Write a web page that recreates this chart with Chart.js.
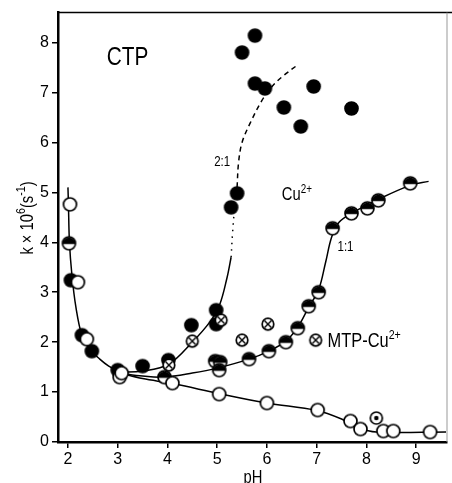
<!DOCTYPE html>
<html>
<head>
<meta charset="utf-8">
<script src="https://cdn.jsdelivr.net/npm/chart.js@4.4.0/dist/chart.umd.min.js"></script>
<style>
html, body { margin: 0; padding: 0; background: #fff; }
</style>
</head>
<body>
<canvas id="myChart" width="452" height="483"></canvas>
<script>
// points: [pH, k x 10^6]
const openPts = [[2.04,4.76],[2.2,3.2],[2.38,2.06],[3.04,1.3],[3.08,1.38],[4.1,1.18],[5.04,0.96],[6.0,0.78],[7.02,0.64],[7.68,0.42],[7.88,0.26],[8.34,0.22],[8.54,0.22],[9.28,0.2]];
const filledPts = [[2.06,3.24],[2.28,2.14],[2.48,1.82],[3.0,1.44],[3.5,1.52],[4.02,1.64],[4.48,2.34],[4.98,2.64],[4.98,2.36],[5.28,4.7],[5.4,4.98],[5.5,7.8],[5.76,8.14],[5.76,7.18],[5.96,7.08],[6.34,6.7],[6.68,6.32],[6.94,7.12],[7.7,6.68]];
const halfPts = [[2.02,3.98],[3.94,1.3],[4.96,1.62],[5.06,1.6],[5.04,1.44],[5.64,1.66],[6.04,1.82],[6.38,2.0],[6.62,2.28],[6.84,2.72],[7.04,3.0],[7.32,4.28],[7.7,4.58],[8.02,4.68],[8.24,4.84],[8.88,5.18]];
const crossPts = [[4.03,1.54],[4.5,2.02],[5.08,2.44],[5.5,2.04],[6.02,2.36]];
const dotPts = [[8.2,0.48]];
const legendPt = [[6.98,2.04]];

// hand-drawn curves, vertices
const lowCurve = [[2.0,5.1],[2.01,4.76],[2.03,4.0],[2.08,3.34],[2.16,2.7],[2.28,2.14],[2.44,1.86],[2.64,1.66],[2.82,1.52],[3.05,1.4]];
const openCurve = [[3.05,1.38],[3.5,1.27],[4.1,1.17],[5.04,0.97],[6.0,0.78],[7.0,0.63],[7.5,0.46],[7.85,0.28],[8.2,0.2],[9.6,0.2]];
const curve11 = [[3.05,1.38],[3.5,1.32],[3.94,1.3],[4.5,1.38],[5.0,1.48],[5.64,1.66],[6.04,1.82],[6.38,2.02],[6.62,2.3],[6.84,2.7],[7.04,3.05],[7.18,3.6],[7.3,4.1],[7.45,4.4],[7.7,4.58],[8.24,4.86],[8.88,5.14],[9.25,5.22]];
const curve21 = [[3.05,1.4],[3.5,1.42],[4.03,1.56],[4.5,2.0],[4.85,2.4],[5.05,2.75],[5.2,3.3],[5.28,3.7]];
const curve21dot = [[5.28,3.7],[5.31,4.2],[5.36,4.8],[5.4,5.1]];
const curve21dash = [[5.4,5.1],[5.43,5.6],[5.5,6.0],[5.66,6.38],[5.9,6.84],[6.12,7.14],[6.35,7.35],[6.6,7.54]];

const xTicks = [2,3,4,5,6,7,8,9];
const yTicks = [0,1,2,3,4,5,6,7,8];

const FONT = "'Liberation Sans', Arial, sans-serif";

function toXY(arr) {
    return arr.map(p => ({x: p[0], y: p[1]}));
}

function makeMarker(kind, r)
{
    const c = document.createElement('canvas');
    const s = Math.ceil(r * 2 + 4);
    c.width = s; c.height = s;
    const g = c.getContext('2d');
    const m = s / 2;
    g.beginPath();
    g.arc(m, m, r, 0, 2 * Math.PI);
    g.fillStyle = kind === 'filled' ? '#000' : '#fff';
    g.fill();
    if (kind === 'half') {
        g.beginPath();
        g.arc(m, m + 0.8, r, Math.PI, 2 * Math.PI);
        g.closePath();
        g.fillStyle = '#000';
        g.fill();
    }
    if (kind === 'cross') {
        const d = r * 0.6;
        g.beginPath();
        g.moveTo(m - d, m - d); g.lineTo(m + d, m + d);
        g.moveTo(m + d, m - d); g.lineTo(m - d, m + d);
        g.lineWidth = 1.4;
        g.strokeStyle = '#000';
        g.stroke();
    }
    if (kind === 'dot') {
        g.beginPath();
        g.arc(m, m, r * 0.38, 0, 2 * Math.PI);
        g.fillStyle = '#000';
        g.fill();
    }
    g.beginPath();
    g.arc(m, m, r, 0, 2 * Math.PI);
    g.lineWidth = 1.7;
    g.strokeStyle = '#000';
    g.stroke();
    return c;
}

const mOpen = makeMarker('open', 6.5);
const mFilled = makeMarker('filled', 6.5);
const mHalf = makeMarker('half', 6.5);
const mCross = makeMarker('cross', 5.8);
const mDot = makeMarker('dot', 6);

function pts(data, img, order) {
    return { data: toXY(data), pointStyle: img, showLine: false, order: order };
}
function curve(data, dash) {
    return {
        data: toXY(data), showLine: true, pointRadius: 0, borderColor: '#000',
        borderWidth: 1.5, borderDash: dash || [], tension: 0.35, order: 20
    };
}

// narrow text, the original lettering is condensed
function narrowText(ctx, txt, x, y, size, align, sx, measureOnly) {
    ctx.save();
    ctx.translate(x, y);
    ctx.scale(sx || 0.82, 1);
    ctx.font = size + 'px ' + FONT;
    ctx.textAlign = align;
    if (!measureOnly) ctx.fillText(txt, 0, 0);
    const w = ctx.measureText(txt).width * (sx || 0.82);
    ctx.restore();
    return w;
}

function drawSup(ctx, x, y, base, sup, size, supSize) {
    ctx.textBaseline = 'alphabetic';
    const w = narrowText(ctx, base, x, y, size, 'left');
    narrowText(ctx, sup, x + w, y - size * 0.42, supSize, 'left');
}

// runs of [text, isSuperscript], drawn left to right from x
function drawRuns(ctx, runs, x, y, size, supSize, measureOnly) {
    ctx.textBaseline = 'alphabetic';
    let cx = x;
    for (const r of runs) {
        if (r[1]) cx += narrowText(ctx, r[0], cx, y - size * 0.45, supSize, 'left', 0.82, measureOnly);
        else cx += narrowText(ctx, r[0], cx, y, size, 'left', 0.82, measureOnly);
    }
    return cx - x;
}

const yTitle = [['k × 10', false], ['6', true], ['(s', false], ['-1', true], [')', false]];

const textPlugin = {
    id: 'texts',
    afterDraw(chart) {
        const ctx = chart.ctx;
        const xs = chart.scales.x, ys = chart.scales.y;
        const area = chart.chartArea;
        const px = v => xs.getPixelForValue(v);
        const py = v => ys.getPixelForValue(v);
        ctx.save();
        ctx.fillStyle = '#000';
        // top and right frame
        ctx.strokeStyle = '#000';
        ctx.lineWidth = 1.5;
        ctx.beginPath();
        ctx.moveTo(area.left, area.top); ctx.lineTo(452, area.top);
        ctx.stroke();
        ctx.strokeStyle = '#999';
        ctx.lineWidth = 1;
        ctx.beginPath();
        ctx.moveTo(area.right, area.top); ctx.lineTo(area.right, area.bottom);
        ctx.stroke();

        ctx.textBaseline = 'middle';
        narrowText(ctx, 'CTP', px(3.2), py(7.7), 26, 'center', 0.8);
        narrowText(ctx, '2:1', px(5.1), py(5.6), 14, 'center');
        narrowText(ctx, '1:1', px(7.58), py(3.9), 14, 'center');

        drawSup(ctx, px(6.3), py(4.84), 'Cu', '2+', 18, 12);
        drawSup(ctx, px(7.22), py(1.9), 'MTP-Cu', '2+', 20, 13);

        // axis titles
        ctx.textBaseline = 'top';
        narrowText(ctx, 'pH', 253, 469, 18, 'center');
        ctx.translate(33, 218);
        ctx.rotate(-Math.PI / 2);
        const w = drawRuns(ctx, yTitle, 0, 0, 18, 13, true);
        drawRuns(ctx, yTitle, -w / 2, 0, 18, 13);
        ctx.restore();
    }
};

const config = {
    type: 'scatter',
    data: {
        datasets: [
            curve(lowCurve),
            curve(openCurve),
            curve(curve11),
            curve(curve21),
            curve(curve21dot, [1.5, 5]),
            curve(curve21dash, [5, 4]),
            pts(filledPts, mFilled, 5),
            pts(halfPts, mHalf, 4),
            pts(crossPts, mCross, 3),
            pts(dotPts, mDot, 2),
            pts(openPts, mOpen, 1),
            pts(legendPt, mCross, 1)
        ]
    },
    options: {
        responsive: false,
        animation: false,
        devicePixelRatio: 1,
        layout: { padding: { top: 12, right: 3, left: 0, bottom: 0 } },
        plugins: { legend: { display: false }, tooltip: { enabled: false } },
        scales: {
            x: {
                type: 'linear', min: 1.8, max: 9.62,
                afterBuildTicks: s => { s.ticks = xTicks.map(v => ({ value: v })); },
                afterFit: s => { s.height = 41; },
                grid: { drawOnChartArea: false, tickLength: 6, color: '#000', lineWidth: 1.5 },
                border: { display: true, color: '#000', width: 2.5 },
                ticks: { color: '#000', padding: 2, font: { family: FONT, size: 16 }, maxRotation: 0 }
            },
            y: {
                type: 'linear', min: 0, max: 8.6,
                afterBuildTicks: s => { s.ticks = yTicks.map(v => ({ value: v })); },
                afterFit: s => { s.width = 58; },
                grid: { drawOnChartArea: false, tickLength: 6, color: '#000', lineWidth: 1.5 },
                border: { display: true, color: '#000', width: 2.5 },
                ticks: { color: '#000', padding: 3, font: { family: FONT, size: 16 } }
            }
        }
    },
    plugins: [textPlugin]
};

const myChart = new Chart(document.getElementById('myChart'), config);
</script>
</body>
</html>
